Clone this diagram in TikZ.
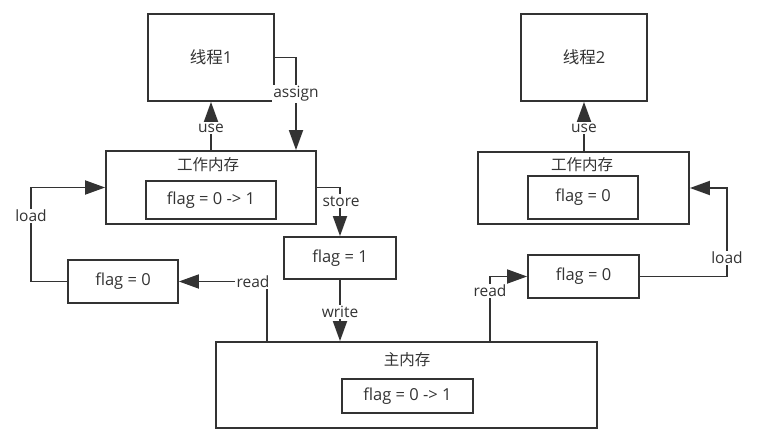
\documentclass[tikz,border=0pt]{standalone}
\usepackage{fontspec}
\setmainfont{Open Sans}
\newfontfamily\cjk{Noto Sans CJK SC}
\usetikzlibrary{arrows.meta}
\definecolor{ink}{HTML}{333333}
\begin{document}
\begin{tikzpicture}[x=1pt,y=-1pt,
  box/.style={draw=ink,line width=1.8pt,minimum width=#1,inner sep=0pt,text=ink,font=\fontsize{16.5}{18}\selectfont},
  arr/.style={draw=ink,line width=1.8pt,-{Triangle[length=20pt,width=14pt]}},
  lbl/.style={fill=white,inner sep=1.5pt,text=ink,font=\fontsize{15.5}{17}\selectfont},
  ttl/.style={text=ink,inner sep=0pt,font=\cjk\fontsize{15.5}{17}\selectfont}]
\useasboundingbox (0,0) rectangle (773,441);
% boxes
\node[box=126pt,minimum height=87pt] (t1) at (211,57.5) {{\cjk 线程}1};
\node[box=126pt,minimum height=87pt] (t2) at (584,57.5) {{\cjk 线程}2};
\node[box=210pt,minimum height=73pt] (wm1) at (211,187.5) {};
\node[ttl] (wm1t) at (208,165) {工作内存};
\node[box=130pt,minimum height=38pt] (wm1i) at (211,200) {flag = 0 -> 1};
\node[box=211pt,minimum height=72pt] (wm2) at (583.5,188) {};
\node[ttl] (wm2t) at (582,165) {工作内存};
\node[box=110pt,minimum height=43pt] (wm2i) at (583,197.5) {flag = 0};
\node[box=112pt,minimum height=42pt] (f1) at (340,258) {flag = 1};
\node[box=110pt,minimum height=43pt] (fl) at (123,281.5) {flag = 0};
\node[box=111pt,minimum height=43pt] (fr) at (583.5,276.5) {flag = 0};
\node[box=381pt,minimum height=86pt] (mm) at (406.5,385) {};
\node[ttl] (mmt) at (407,360) {主内存};
\node[box=131pt,minimum height=34pt] (mmi) at (407.5,396) {flag = 0 -> 1};
% helper coordinates
\coordinate (a1) at (296,57.5);
\coordinate (rl) at (267,281.5);
\coordinate (ll) at (31,281.5);
\coordinate (rr) at (490,276.5);
\coordinate (lr) at (727,276.5);
% connectors
\draw[arr] (wm1.north) -- (t1.south);
\draw[arr] (t1.east) -- (a1) -- (a1 |- wm1.north);
\draw[arr] (wm1.east) -| (f1.north);
\draw[arr] (f1.south) -- (f1.south |- mm.north);
\draw[arr] (rl |- mm.north) -- (rl) -- (fl.east);
\draw[arr] (fl.west) -- (ll) -- (ll |- wm1.west) -- (wm1.west);
\draw[arr] (rr |- mm.north) -- (rr) -- (fr.west);
\draw[arr] (fr.east) -- (lr) -- (lr |- wm2.east) -- (wm2.east);
\draw[arr] (wm2.north -| t2.south) -- (t2.south);
% labels
\node[lbl] (luse1) at (211,128) {use};
\node[lbl] (luse2) at (584,128) {use};
\node[lbl] (lassign) at (296,94) {assign};
\node[lbl] (lstore) at (341,201) {store};
\node[lbl] (lwrite) at (340,312) {write};
\node[lbl] (lreadl) at (253,282) {read};
\node[lbl] (lloadl) at (31,216) {load};
\node[lbl] (lreadr) at (490,291) {read};
\node[lbl] (lloadr) at (727,258) {load};
\end{tikzpicture}
\end{document}
